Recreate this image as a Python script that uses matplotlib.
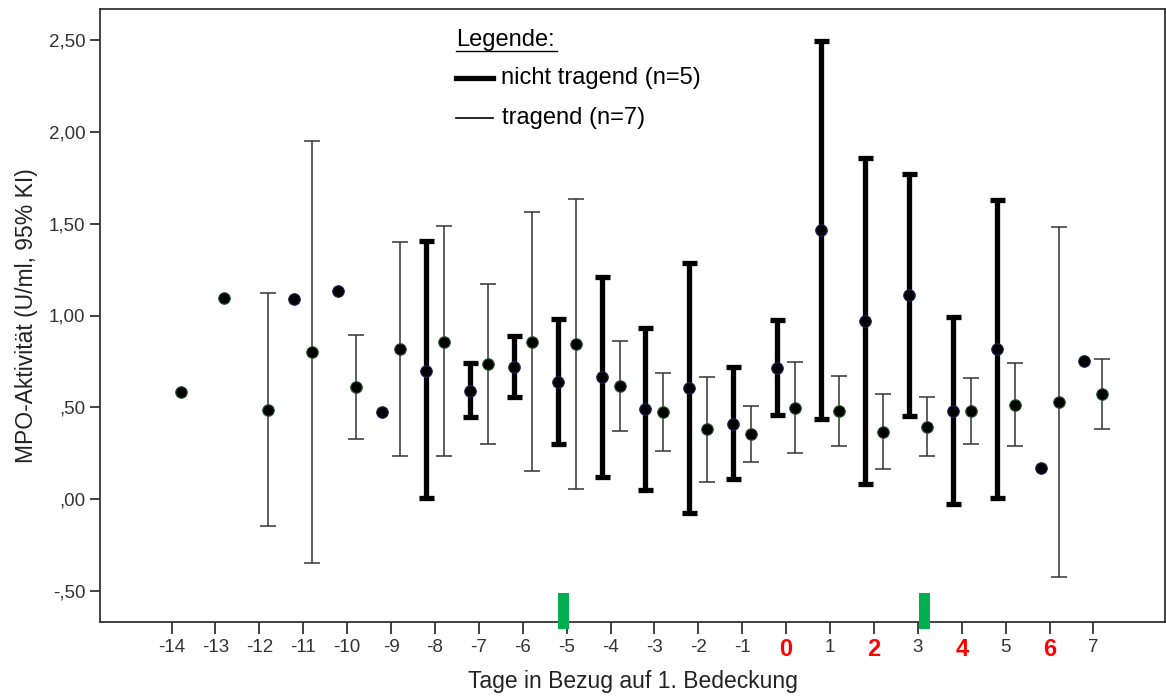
import numpy as np
import matplotlib
matplotlib.use("Agg")
import matplotlib.pyplot as plt
from matplotlib.patches import Rectangle
from matplotlib.lines import Line2D
import matplotlib.transforms as mtransforms

plt.rcParams['font.family'] = ['Liberation Sans', 'DejaVu Sans']

nan = np.nan

# Tage in Bezug auf 1. Bedeckung
DAYS = list(range(-14, 8))
RED_DAYS = [0, 2, 4, 6]
MARK_DAYS = [-5.2, 3.03]  # green markers on the x axis

# nicht tragend (n=5): mean, lower / upper 95% KI
NT_MEAN = [nan, nan, nan, 1.088, 1.135, 0.476, 0.700, 0.590, 0.718, 0.636, 0.663,
           0.489, 0.603, 0.409, 0.712, 1.466, 0.970, 1.112, 0.481, 0.817, 0.167, 0.754]
NT_LOW = [nan, nan, nan, nan, nan, nan, 0.005, 0.445, 0.554, 0.298, 0.122,
          0.049, -0.075, 0.107, 0.458, 0.434, 0.080, 0.452, -0.027, 0.007, nan, nan]
NT_HIGH = [nan, nan, nan, nan, nan, nan, 1.406, 0.739, 0.888, 0.979, 1.208,
           0.930, 1.288, 0.721, 0.975, 2.498, 1.860, 1.771, 0.994, 1.629, nan, nan]

# tragend (n=7)
TR_MEAN = [0.585, 1.097, 0.485, 0.803, 0.609, 0.817, 0.857, 0.736, 0.857, 0.845, 0.616,
           0.474, 0.380, 0.353, 0.498, 0.481, 0.363, 0.394, 0.481, 0.512, 0.530, 0.572]
TR_LOW = [nan, nan, -0.147, -0.347, 0.327, 0.234, 0.234, 0.300, 0.154, 0.056, 0.371,
          0.262, 0.094, 0.202, 0.249, 0.289, 0.162, 0.234, 0.300, 0.289, -0.423, 0.380]
TR_HIGH = [nan, nan, 1.121, 1.953, 0.894, 1.400, 1.488, 1.172, 1.564, 1.637, 0.863,
           0.685, 0.667, 0.507, 0.745, 0.672, 0.572, 0.558, 0.658, 0.739, 1.484, 0.761]

OFFSET = 0.205

fig = plt.figure(figsize=(11.66, 7.0), dpi=100)
ax = fig.add_axes([100 / 1166, 1 - 622 / 700, 1065 / 1166, 613 / 700])


def draw_group(mean, low, high, dx, lw, cap, color, edge):
    x = np.array(DAYS, dtype=float) + dx
    mean = np.array(mean)
    low = np.array(low)
    high = np.array(high)
    has_bar = ~np.isnan(low)
    ax.errorbar(x[has_bar], mean[has_bar],
                yerr=[mean[has_bar] - low[has_bar], high[has_bar] - mean[has_bar]],
                fmt='none', ecolor=color, elinewidth=lw, capsize=cap,
                capthick=lw, zorder=2)
    ok = ~np.isnan(mean)
    ax.plot(x[ok], mean[ok], 'o', ms=8.3, mfc='black', mec=edge, mew=0.8,
            zorder=3, linestyle='none')


draw_group(NT_MEAN, NT_LOW, NT_HIGH, -OFFSET, 3.8, 5.4, 'black', '#23235e')
draw_group(TR_MEAN, TR_LOW, TR_HIGH, OFFSET, 1.1, 5.8, '#333333', '#2a5a2a')

ax.set_xlim(-15.63, 8.63)
ax.set_ylim(-0.67, 2.67)
ax.set_yticks([-0.5, 0, 0.5, 1.0, 1.5, 2.0, 2.5])
ax.set_yticklabels(['-,50', ',00', ',50', '1,00', '1,50', '2,00', '2,50'])
ax.set_xticks(DAYS)
ax.set_xticklabels(['' if d in RED_DAYS else str(d) for d in DAYS])
ax.tick_params(axis='both', labelsize=13.5, colors='#333333', width=1.3,
               length=7.5, pad=3)
ax.tick_params(axis='x', length=8.5, pad=4)
for sp in ax.spines.values():
    sp.set_color('#333333')
    sp.set_linewidth(1.3)

trans = mtransforms.blended_transform_factory(ax.transData, ax.transAxes)
for d in RED_DAYS:
    ax.text(d, -28 / 613, str(d), transform=trans, color='#ff0000',
            fontsize=17, fontweight='bold', ha='center', va='center')

for mx in MARK_DAYS:
    ax.add_patch(Rectangle((mx, -0.707), 0.25, 0.195, facecolor='#00b050',
                           edgecolor='none', clip_on=False, zorder=5))

ax.set_xlabel('Tage in Bezug auf 1. Bedeckung', fontsize=16.5, color='#222222',
              labelpad=10)
ax.set_ylabel('MPO-Aktivität (U/ml, 95% KI)', fontsize=16.5, color='#222222',
              labelpad=8)


def fx(px):
    return px / 1166


def fy(py):
    return 1 - py / 700


# Legend drawn by hand like the original
fig.text(fx(456), fy(40), 'Legende:', fontsize=17, va='center', ha='left')
fig.add_artist(Line2D([fx(456), fx(557)], [fy(51), fy(51)], color='black', lw=1.0))
fig.add_artist(Line2D([fx(456), fx(493)], [fy(78), fy(78)], color='black', lw=3.8))
fig.text(fx(501), fy(78), 'nicht tragend (n=5)', fontsize=17, va='center', ha='left')
fig.add_artist(Line2D([fx(456), fx(493)], [fy(118), fy(118)], color='black', lw=1.2))
fig.text(fx(502), fy(118), 'tragend (n=7)', fontsize=17, va='center', ha='left')

fig.savefig('out.png', dpi=100)
